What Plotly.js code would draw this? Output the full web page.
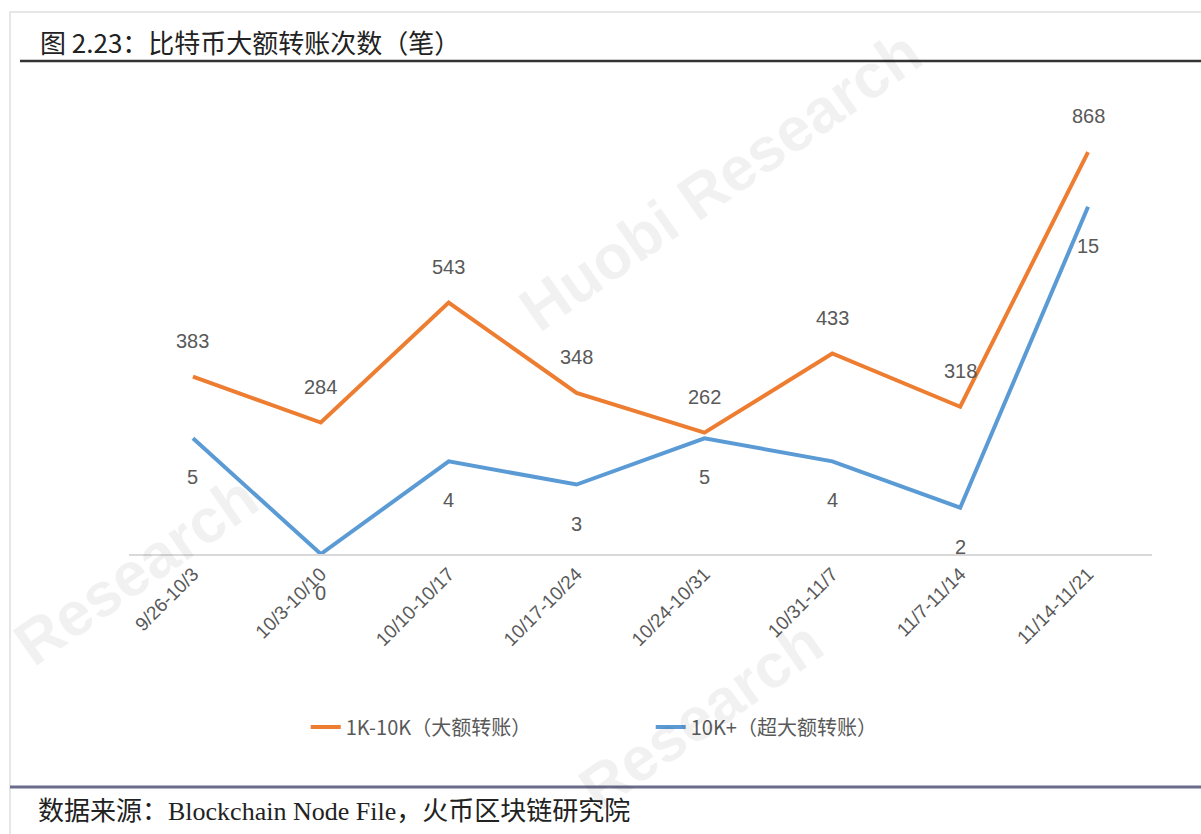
<!DOCTYPE html>
<html>
<head>
<meta charset="utf-8">
<script src="https://cdn.plot.ly/plotly-3.0.1.min.js"></script>
<style>html,body{margin:0;padding:0;background:#fff;}#chart{width:1201px;height:834px;}</style>
</head>
<body>
<div id="chart"></div>
<script>
const categories = ["9/26-10/3","10/3-10/10","10/10-10/17","10/17-10/24","10/24-10/31","10/31-11/7","11/7-11/14","11/14-11/21"];
const large = [383, 284, 543, 348, 262, 433, 318, 868];
const huge = [5, 0, 4, 3, 5, 4, 2, 15];
const seriesNames = ["1K-10K（大额转账）", "10K+（超大额转账）"];
const titleText = "图 2.23：比特币大额转账次数（笔）";
const sourceText = "数据来源：<span style=\"font-family:'Liberation Serif',serif\">Blockchain Node File</span>，火币区块链研究院";

const orange = "#ED7D31", blue = "#5B9BD5";
const labelFont = {family: "Liberation Sans, Noto Sans CJK SC, sans-serif", size: 20, color: "#595959"};

const traces = [
  {x: categories, y: large, name: seriesNames[0], type: "scatter", mode: "lines",
   line: {color: orange, width: 4}, yaxis: "y"},
  {x: categories, y: huge, name: seriesNames[1], type: "scatter", mode: "lines",
   line: {color: blue, width: 4}, yaxis: "y2"}
];

const annotations = [];
function px(x) { return (x - 129) / 1023; }
function py(y) { return (554 - y) / 463; }
// faint watermarks, kept fully inside the page
const wm = {family: "Liberation Sans, sans-serif", size: 62, color: "rgba(0,0,0,0.055)"};
annotations.push({xref: "paper", yref: "paper", x: px(720), y: py(180), xanchor: "center", yanchor: "middle",
  text: "<b>Huobi Research</b>", showarrow: false, textangle: -35, font: wm});
annotations.push({xref: "paper", yref: "paper", x: px(135), y: py(570), xanchor: "center", yanchor: "middle",
  text: "<b>Research</b>", showarrow: false, textangle: -35, font: wm});
annotations.push({xref: "paper", yref: "paper", x: px(700), y: py(715), xanchor: "center", yanchor: "middle",
  text: "<b>Research</b>", showarrow: false, textangle: -35, font: wm});

categories.forEach((c, i) => {
  annotations.push({x: c, y: large[i], xref: "x", yref: "y", text: String(large[i]),
    showarrow: false, yshift: 36, font: labelFont});
  annotations.push({x: c, y: huge[i], xref: "x", yref: "y2", text: String(huge[i]),
    showarrow: false, yshift: -39, font: labelFont});
});
// header / footer texts
annotations.push({xref: "paper", yref: "paper", x: px(38), y: py(42), xanchor: "left", yanchor: "middle",
  text: titleText, showarrow: false, font: {family: "Noto Sans CJK SC, sans-serif", size: 26, color: "#222"}});
annotations.push({xref: "paper", yref: "paper", x: px(36), y: py(808), xanchor: "left", yanchor: "middle",
  text: sourceText, showarrow: false, font: {family: "Noto Sans CJK SC, sans-serif", size: 26, color: "#222"}});

const layout = {
  width: 1201, height: 834,
  margin: {l: 129, r: 49, t: 91, b: 280},
  paper_bgcolor: "#fff", plot_bgcolor: "#fff",
  font: {family: "Liberation Sans, Noto Sans CJK SC, sans-serif", color: "#595959"},
  showlegend: true,
  legend: {orientation: "h", x: 0.51, xanchor: "center", y: py(727), yanchor: "middle",
    font: {family: "Noto Sans CJK SC, Liberation Sans, sans-serif", size: 20, color: "#595959"},
    entrywidth: 300, entrywidthmode: "pixels"},
  xaxis: {type: "category", range: [-0.5, 7.5], showline: true, linecolor: "#d9d9d9", linewidth: 1.5,
    showgrid: false, zeroline: false, ticks: "", tickangle: -45,
    tickfont: {family: "Liberation Sans, sans-serif", size: 19, color: "#595959"}},
  yaxis: {range: [0, 1000], visible: false, showgrid: false, zeroline: false},
  yaxis2: {range: [0, 20], overlaying: "y", visible: false, showgrid: false, zeroline: false},
  shapes: [
    {type: "rect", xref: "paper", yref: "paper", x0: px(10), x1: px(1215), y0: py(845), y1: py(12),
      line: {color: "#e6e6e6", width: 2}, layer: "below"},
    {type: "line", xref: "paper", yref: "paper", x0: px(20), x1: px(1201), y0: py(61), y1: py(61),
      line: {color: "#333", width: 2.5}},
    {type: "line", xref: "paper", yref: "paper", x0: px(10), x1: px(1201), y0: py(787), y1: py(787),
      line: {color: "#6b6b8c", width: 3}}
  ],
  annotations: annotations
};

Plotly.newPlot("chart", traces, layout, {displayModeBar: false, staticPlot: true});
</script>
</body>
</html>
